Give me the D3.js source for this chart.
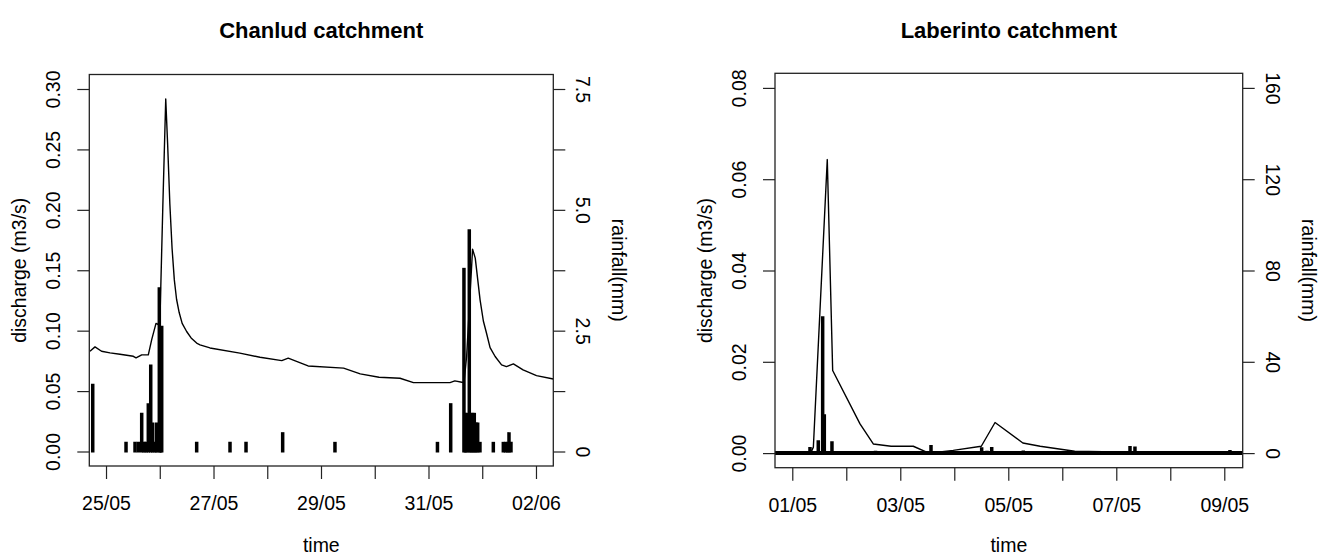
<!DOCTYPE html>
<html>
<head>
<meta charset="utf-8">
<script src="https://cdn.jsdelivr.net/npm/d3@7"></script>
<style>
    body { margin: 0; background: #fff; }
    svg { display: block; font-family: "Liberation Sans", Arial, Helvetica, sans-serif; }
</style>
</head>
<body>
<div id="chart"></div>
<script>
const parseT = d3.timeParse("%d/%m %H:%M");
const parseDay = d3.timeParse("%d/%m");

// Chanlud: discharge (m3/s) and rainfall (mm)
const chanludQ = [
    ["24/05 16:50", 0.0830], ["24/05 19:05", 0.0866], ["24/05 22:00", 0.0830],
    ["25/05 01:47", 0.0816], ["25/05 06:14", 0.0805], ["25/05 12:12", 0.0788],
    ["25/05 13:24", 0.0775], ["25/05 15:56", 0.0800], ["25/05 18:53", 0.0800],
    ["25/05 20:24", 0.0926], ["25/05 22:19", 0.1060], ["25/05 23:21", 0.1050],
    ["26/05 00:10", 0.1150], ["26/05 01:22", 0.2030], ["26/05 02:40", 0.2918],
    ["26/05 03:30", 0.2550], ["26/05 04:30", 0.2050], ["26/05 05:30", 0.1680],
    ["26/05 06:30", 0.1420], ["26/05 07:30", 0.1260], ["26/05 08:40", 0.1150],
    ["26/05 10:00", 0.1060], ["26/05 12:00", 0.0993], ["26/05 14:00", 0.0940],
    ["26/05 16:28", 0.0897], ["26/05 17:58", 0.0883], ["26/05 22:26", 0.0857],
    ["27/05 11:46", 0.0814], ["27/05 20:46", 0.0780], ["28/05 06:29", 0.0752],
    ["28/05 09:22", 0.0772], ["28/05 12:30", 0.0750], ["28/05 18:14", 0.0708],
    ["29/05 10:05", 0.0690], ["29/05 17:31", 0.0642], ["30/05 01:55", 0.0614],
    ["30/05 11:17", 0.0606], ["30/05 17:17", 0.0570], ["31/05 09:36", 0.0570],
    ["31/05 11:46", 0.0584], ["31/05 14:53", 0.0573], ["31/05 15:50", 0.0570],
    ["31/05 17:02", 0.0786], ["31/05 19:41", 0.1675], ["31/05 20:53", 0.1600],
    ["31/05 22:00", 0.1420], ["31/05 23:02", 0.1255], ["01/06 00:30", 0.1080],
    ["01/06 01:55", 0.0979], ["01/06 03:30", 0.0860], ["01/06 05:46", 0.0786],
    ["01/06 08:38", 0.0717], ["01/06 10:48", 0.0703], ["01/06 13:55", 0.0725],
    ["01/06 18:14", 0.0675], ["02/06 00:14", 0.0628], ["02/06 07:44", 0.0600]
];
const chanludRain = [
    ["24/05 18:04", 1.4], ["25/05 08:56", 0.2], ["25/05 12:57", 0.2],
    ["25/05 14:25", 0.2], ["25/05 15:56", 0.8], ["25/05 16:58", 0.2],
    ["25/05 17:55", 0.2], ["25/05 18:53", 1.0], ["25/05 19:58", 1.8],
    ["25/05 20:51", 0.6], ["25/05 21:53", 0.2], ["25/05 22:38", 0.6],
    ["25/05 23:48", 3.4], ["26/05 00:20", 0.2], ["26/05 00:52", 2.6],
    ["26/05 16:29", 0.2], ["27/05 07:22", 0.2], ["27/05 14:31", 0.2],
    ["28/05 06:53", 0.4], ["29/05 06:14", 0.2], ["31/05 04:00", 0.2],
    ["31/05 09:55", 1.0], ["31/05 15:50", 3.8], ["31/05 16:31", 0.8],
    ["31/05 17:11", 0.8], ["31/05 18:13", 4.6], ["31/05 18:59", 0.8],
    ["31/05 19:44", 0.8], ["31/05 20:27", 0.8], ["31/05 21:13", 0.6],
    ["31/05 21:58", 0.6], ["31/05 22:59", 0.2], ["01/06 04:57", 0.2],
    ["01/06 09:25", 0.2], ["01/06 10:24", 0.2], ["01/06 11:17", 0.2],
    ["01/06 11:57", 0.4], ["01/06 12:50", 0.2]
];
const chanludDays = ["25/05", "26/05", "27/05", "28/05", "29/05", "30/05", "31/05", "01/06", "02/06"];
const chanludDayLabels = ["25/05", "", "27/05", "", "29/05", "", "31/05", "", "02/06"];
const chanludQTicks = [0, 0.05, 0.10, 0.15, 0.20, 0.25, 0.30];
const chanludRainTicks = [0, 1.25, 2.5, 3.75, 5, 6.25, 7.5];
const chanludRainLabels = ["0", "", "2.5", "", "5.0", "", "7.5"];

// Laberinto: discharge (m3/s) and rainfall (mm)
const laberintoQ = [
    ["30/04 12:00", 0], ["01/05 08:10", 0], ["01/05 09:22", 0.0013],
    ["01/05 15:33", 0.0643], ["01/05 17:57", 0.0181], ["02/05 06:06", 0.0064],
    ["02/05 12:00", 0.0020], ["02/05 19:55", 0.0015], ["03/05 05:46", 0.0015],
    ["03/05 12:43", 0.0000], ["03/05 23:31", 0.0006], ["04/05 12:00", 0.0015],
    ["04/05 18:07", 0.0067], ["05/05 06:29", 0.0022], ["05/05 14:10", 0.0015],
    ["06/05 05:31", 0.0004], ["07/05 06:29", 0.0002], ["09/05 12:00", 0.0001]
];
const laberintoRain = [
    ["01/05 07:52", 2.7], ["01/05 11:33", 5.6], ["01/05 13:30", 60],
    ["01/05 14:14", 17], ["01/05 17:38", 5.2], ["01/05 21:00", 0.6],
    ["02/05 10:00", 0.8], ["02/05 13:00", 1.0], ["02/05 16:00", 0.8],
    ["03/05 13:39", 3.5], ["04/05 12:10", 2.6], ["04/05 14:32", 1.0],
    ["04/05 16:38", 2.7], ["04/05 22:00", 0.8], ["05/05 06:40", 1.1],
    ["05/05 15:00", 0.6], ["07/05 06:06", 3.1], ["07/05 08:18", 2.9],
    ["07/05 12:45", 0.8], ["09/05 02:31", 1.4]
];
const laberintoRainSpan = ["30/04 12:00", "09/05 12:00"]; // recorded period, zeros elsewhere
const laberintoDays = ["01/05", "02/05", "03/05", "04/05", "05/05", "06/05", "07/05", "08/05", "09/05"];
const laberintoDayLabels = ["01/05", "", "03/05", "", "05/05", "", "07/05", "", "09/05"];
const laberintoQTicks = [0, 0.02, 0.04, 0.06, 0.08];
const laberintoRainTicks = [0, 40, 80, 120, 160];
const laberintoRainLabels = ["0", "40", "80", "120", "160"];

const fontSize = "19.5px";

const svg = d3.select("#chart")
    .append("svg")
    .attr("width", 1319)
    .attr("height", 558);

function styleAxis(g) {
    g.select(".domain").remove();
    g.selectAll(".tick line").attr("stroke", "#222").attr("stroke-width", 1.2);
    g.selectAll(".tick text").attr("fill", "#000").style("font-size", fontSize);
}

function drawPanel(p) {
    const box = p.box;
    const midY = (box.y0 + box.y1) / 2;
    const midX = (box.x0 + box.x1) / 2;

    const x = d3.scaleTime().domain(p.xDomain.map(parseT)).range([box.x0, box.x1]);
    const yQ = d3.scaleLinear().domain(p.qDomain).range([box.y1, box.y0]);
    const yR = d3.scaleLinear().domain(p.rainDomain).range([box.y1, box.y0]);

    const g = svg.append("g");

    g.append("clipPath")
        .attr("id", p.id + "-clip")
        .append("rect")
        .attr("x", box.x0).attr("y", box.y0)
        .attr("width", box.x1 - box.x0).attr("height", box.y1 - box.y0);

    const plot = g.append("g").attr("clip-path", `url(#${p.id}-clip)`);

    // zero rainfall band over the recorded period
    if (p.rainSpan) {
        plot.append("line")
            .attr("x1", x(parseT(p.rainSpan[0])))
            .attr("x2", x(parseT(p.rainSpan[1])))
            .attr("y1", yR(0)).attr("y2", yR(0))
            .attr("stroke", "#000")
            .attr("stroke-width", 4);
    }

    // rainfall bars
    plot.selectAll(".rain")
        .data(p.rain)
        .join("line")
        .attr("class", "rain")
        .attr("x1", d => x(parseT(d[0])))
        .attr("x2", d => x(parseT(d[0])))
        .attr("y1", yR(0) + 1)
        .attr("y2", d => yR(d[1]))
        .attr("stroke", "#000")
        .attr("stroke-width", 3.5);

    // discharge line
    plot.append("path")
        .datum(p.q)
        .attr("fill", "none")
        .attr("stroke", "#000")
        .attr("stroke-width", 1.4)
        .attr("stroke-linejoin", "round")
        .attr("d", d3.line().x(d => x(parseT(d[0]))).y(d => yQ(d[1])));

    // Axes
    g.append("g")
        .attr("transform", `translate(0, ${box.y1})`)
        .call(d3.axisBottom(x)
            .tickValues(p.days.map(parseDay))
            .tickSize(13)
            .tickPadding(17)
            .tickFormat((d, i) => p.dayLabels[i]))
        .call(styleAxis);

    const left = g.append("g")
        .attr("transform", `translate(${box.x0}, 0)`)
        .call(d3.axisLeft(yQ)
            .tickValues(p.qTicks)
            .tickSize(12)
            .tickFormat(d3.format(".2f")))
        .call(styleAxis);
    left.selectAll(".tick text")
        .attr("x", 0).attr("dy", 0)
        .attr("text-anchor", "middle")
        .attr("transform", "translate(-29.5, 0) rotate(-90)");

    const right = g.append("g")
        .attr("transform", `translate(${box.x1}, 0)`)
        .call(d3.axisRight(yR)
            .tickValues(p.rainTicks)
            .tickSize(12)
            .tickFormat((d, i) => p.rainLabels[i]))
        .call(styleAxis);
    right.selectAll(".tick text")
        .attr("x", 0).attr("dy", 0)
        .attr("text-anchor", "middle")
        .attr("transform", "translate(23, 0) rotate(90)");

    // Box
    g.append("rect")
        .attr("x", box.x0).attr("y", box.y0)
        .attr("width", box.x1 - box.x0).attr("height", box.y1 - box.y0)
        .attr("fill", "none")
        .attr("stroke", "#222")
        .attr("stroke-width", 1.3);

    // Labels
    g.append("text")
        .attr("x", midX).attr("y", 38)
        .attr("text-anchor", "middle")
        .style("font-size", "22px")
        .style("font-weight", "bold")
        .text(p.title);

    g.append("text")
        .attr("x", midX).attr("y", 552)
        .attr("text-anchor", "middle")
        .style("font-size", fontSize)
        .text("time");

    g.append("text")
        .attr("transform", `translate(${box.x0 - 63.3}, ${midY}) rotate(-90)`)
        .attr("text-anchor", "middle")
        .style("font-size", fontSize)
        .text("discharge (m3/s)");

    g.append("text")
        .attr("transform", `translate(${box.x1 + 59}, ${midY}) rotate(90)`)
        .attr("text-anchor", "middle")
        .style("font-size", fontSize)
        .text("rainfall(mm)");
}

drawPanel({
    id: "chanlud",
    title: "Chanlud catchment",
    box: { x0: 89.3, x1: 553.3, y0: 74.5, y1: 466 },
    xDomain: ["24/05 16:32", "02/06 07:44"],
    qDomain: [-0.012, 0.312],
    rainDomain: [-0.3, 7.8],
    q: chanludQ,
    rain: chanludRain,
    days: chanludDays,
    dayLabels: chanludDayLabels,
    qTicks: chanludQTicks,
    rainTicks: chanludRainTicks,
    rainLabels: chanludRainLabels
});

drawPanel({
    id: "laberinto",
    title: "Laberinto catchment",
    box: { x0: 775, x1: 1242.7, y0: 73.3, y1: 467.7 },
    xDomain: ["30/04 16:19", "09/05 08:11"],
    qDomain: [-0.0032, 0.0832],
    rainDomain: [-6.4, 166.4],
    q: laberintoQ,
    rain: laberintoRain,
    rainSpan: laberintoRainSpan,
    days: laberintoDays,
    dayLabels: laberintoDayLabels,
    qTicks: laberintoQTicks,
    rainTicks: laberintoRainTicks,
    rainLabels: laberintoRainLabels
});
</script>
</body>
</html>
